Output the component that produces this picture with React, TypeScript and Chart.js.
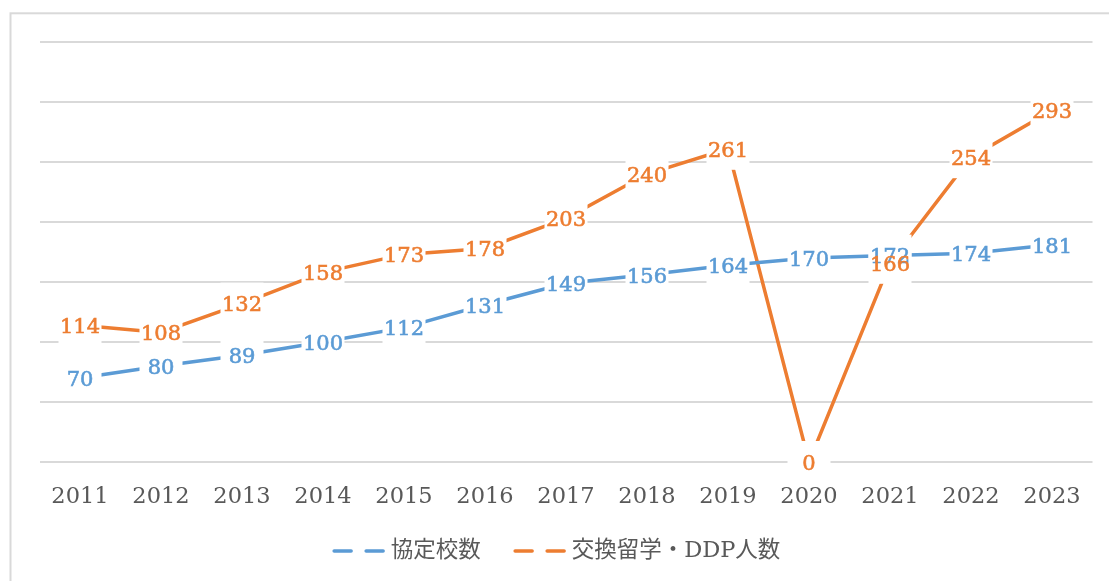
import React, { useEffect, useRef } from "react";
import { Chart, registerables } from "chart.js";

Chart.register(...registerables);

const years = ["2011", "2012", "2013", "2014", "2015", "2016", "2017", "2018", "2019", "2020", "2021", "2022", "2023"];
const partnerSchools = [70, 80, 89, 100, 112, 131, 149, 156, 164, 170, 172, 174, 181];
const exchangeStudents = [114, 108, 132, 158, 173, 178, 203, 240, 261, 0, 166, 254, 293];
const seriesNames = ["協定校数", "交換留学・DDP人数"];
const yTicksMax = 350;
const yTicksStep = 50;

const BLUE = "#5B9BD5";
const ORANGE = "#ED7D31";
const TEXT = "#595959";
const SERIF = '"DejaVu Serif", "Noto Sans CJK JP", serif';

const decorPlugin = {
  id: "decor",
  beforeDraw(chart: any) {
    const ctx = chart.ctx;
    ctx.save();
    ctx.fillStyle = "#ffffff";
    ctx.fillRect(0, 0, chart.width, chart.height);
    ctx.strokeStyle = "#d9d9d9";
    ctx.lineWidth = 2;
    ctx.strokeRect(10.5, 13.3, chart.width + 50, chart.height + 50);
    ctx.restore();
  },
  afterDatasetsDraw(chart: any) {
    const ctx = chart.ctx;
    ctx.save();
    ctx.font = `21px ${SERIF}`;
    const items: any[] = [];
    chart.data.datasets.forEach((ds: any, di: number) => {
      const meta = chart.getDatasetMeta(di);
      meta.data.forEach((pt: any, i: number) => {
        items.push({ x: pt.x, y: pt.y, text: String(ds.data[i]), color: ds.borderColor });
      });
    });
    ctx.fillStyle = "#ffffff";
    items.forEach((it) => {
      const w = Math.max(ctx.measureText(it.text).width + 2, 43);
      const h = 42;
      ctx.fillRect(it.x - w / 2, it.y - h / 2, w, h);
    });
    ctx.textAlign = "center";
    ctx.textBaseline = "alphabetic";
    ctx.lineWidth = 0.6;
    items.forEach((it) => {
      ctx.fillStyle = it.color;
      ctx.strokeStyle = it.color;
      ctx.fillText(it.text, it.x, it.y + 7.8);
      ctx.strokeText(it.text, it.x, it.y + 7.8);
    });

    // legend
    ctx.font = `22.5px ${SERIF}`;
    const dash = 20, dgap = 12, tgap = 6, igap = 33;
    const widths = chart.data.datasets.map((ds: any) => ctx.measureText(ds.label).width);
    const total = widths.reduce((a: number, w: number) => a + dash * 2 + dgap + tgap + w, 0) + igap * (widths.length - 1);
    let x = 556.5 - total / 2;
    const ly = 551;
    ctx.textAlign = "left";
    ctx.textBaseline = "middle";
    chart.data.datasets.forEach((ds: any, di: number) => {
      ctx.strokeStyle = ds.borderColor;
      ctx.lineWidth = 3.5;
      ctx.lineCap = "round";
      ctx.beginPath();
      ctx.moveTo(x + 1.5, ly);
      ctx.lineTo(x + dash - 1.5, ly);
      ctx.moveTo(x + dash + dgap + 1.5, ly);
      ctx.lineTo(x + dash * 2 + dgap - 1.5, ly);
      ctx.stroke();
      x += dash * 2 + dgap + tgap;
      ctx.fillStyle = TEXT;
      ctx.fillText(ds.label, x, ly);
      x += widths[di] + igap;
    });
    ctx.restore();
  },
};

export default function App() {
  const ref = useRef<HTMLCanvasElement | null>(null);
  useEffect(() => {
    if (!ref.current) return;
    const chart = new Chart(ref.current, {
      type: "line",
      data: {
        labels: years,
        datasets: [
          {
            label: seriesNames[0],
            data: partnerSchools,
            borderColor: BLUE,
            backgroundColor: BLUE,
            borderWidth: 3.5,
            pointRadius: 0,
            tension: 0,
          },
          {
            label: seriesNames[1],
            data: exchangeStudents,
            borderColor: ORANGE,
            backgroundColor: ORANGE,
            borderWidth: 3.5,
            pointRadius: 0,
            tension: 0,
          },
        ],
      },
      options: {
        animation: false,
        responsive: false,
        devicePixelRatio: 1,
        layout: { padding: { left: 39.5, right: 16.5, top: 42, bottom: 0 } },
        plugins: {
          legend: { display: false },
          tooltip: { enabled: false },
        },
        scales: {
          x: {
            offset: true,
            grid: { display: false, drawTicks: false },
            border: { display: false },
            ticks: {
              color: TEXT,
              font: { family: SERIF, size: 22.5 },
              padding: 22,
              maxRotation: 0,
              autoSkip: false,
            },
            afterFit: (s: any) => {
              s.height = 119;
            },
          },
          y: {
            min: 0,
            max: yTicksMax,
            ticks: { display: false, stepSize: yTicksStep },
            grid: { color: "#d9d9d9", lineWidth: 2, drawTicks: false },
            border: { display: false },
            afterFit: (s: any) => {
              s.width = 0;
            },
          },
        },
      },
      plugins: [decorPlugin],
    });
    return () => chart.destroy();
  }, []);
  return (
    <div style={{ position: "absolute", left: 0, top: 0, width: 1109, height: 581 }}>
      <canvas ref={ref} width={1109} height={581} style={{ display: "block" }} />
    </div>
  );
}
